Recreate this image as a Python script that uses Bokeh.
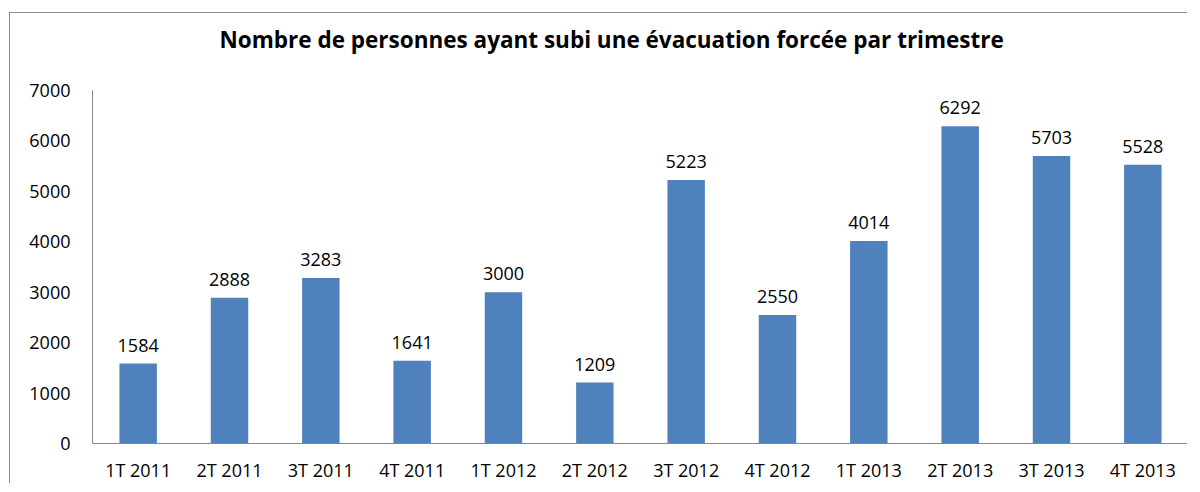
from bokeh.plotting import figure
from bokeh.models import ColumnDataSource, LabelSet, FixedTicker
from bokeh.core.properties import value
from bokeh.embed import file_html
from bokeh.resources import INLINE

categories = ["1T 2011", "2T 2011", "3T 2011", "4T 2011", "1T 2012", "2T 2012",
              "3T 2012", "4T 2012", "1T 2013", "2T 2013", "3T 2013", "4T 2013"]
values = [1584, 2888, 3283, 1641, 3000, 1209, 5223, 2550, 4014, 6292, 5703, 5528]
y_ticks = [0, 1000, 2000, 3000, 4000, 5000, 6000, 7000]
title_text = "Nombre de personnes ayant subi une évacuation forcée par trimestre"

FONT = "Open Sans"

src = ColumnDataSource(dict(cat=categories, val=values, lab=[str(v) for v in values]))

p = figure(x_range=categories, y_range=(0, 7000), width=1178, height=471,
           output_backend="svg", toolbar_location=None, title=title_text,
           min_border_left=82, min_border_right=0, min_border_top=77, min_border_bottom=35)
p.styles = {"margin-left": "9px", "margin-top": "12px",
            "border-left": "1px solid #8c8c8c", "border-top": "1px solid #8c8c8c"}

p.title.align = "left"
p.title.offset = 127
p.title.standoff = 17
p.title.padding = {"left": 0, "right": 0, "top": 0, "bottom": 27}
p.title.text_font = FONT
p.title.text_font_size = "22.5px"
p.title.text_font_style = "bold"
p.title.text_color = "#000000"

p.vbar(x="cat", top="val", width=0.41, source=src, fill_color="#4F81BD", line_color=None)

labels = LabelSet(x="cat", y="val", text="lab", source=src, y_offset=12,
                  text_align="center", text_baseline="bottom",
                  text_font=value(FONT), text_font_size="18px", text_color="#000000")
p.add_layout(labels)

p.xgrid.visible = False
p.ygrid.visible = False
p.outline_line_color = None

p.yaxis.ticker = FixedTicker(ticks=y_ticks)
p.yaxis.major_tick_line_color = None
p.yaxis.major_tick_out = 0
p.yaxis.major_tick_in = 0
p.yaxis.minor_tick_line_color = None
p.yaxis.axis_line_color = "#868686"
p.yaxis.major_label_standoff = 22
p.yaxis.major_label_text_font = FONT
p.yaxis.major_label_text_font_size = "18px"
p.yaxis.major_label_text_color = "#000000"

p.xaxis.major_tick_line_color = None
p.xaxis.major_tick_out = 0
p.xaxis.major_tick_in = 0
p.xaxis.minor_tick_line_color = None
p.xaxis.axis_line_color = "#868686"
p.xaxis.major_label_standoff = 14
p.xaxis.major_label_text_font = FONT
p.xaxis.major_label_text_font_size = "18px"
p.xaxis.major_label_text_color = "#000000"

p.x_range.range_padding = 0

open("out.html", "w").write(file_html(p, INLINE))
